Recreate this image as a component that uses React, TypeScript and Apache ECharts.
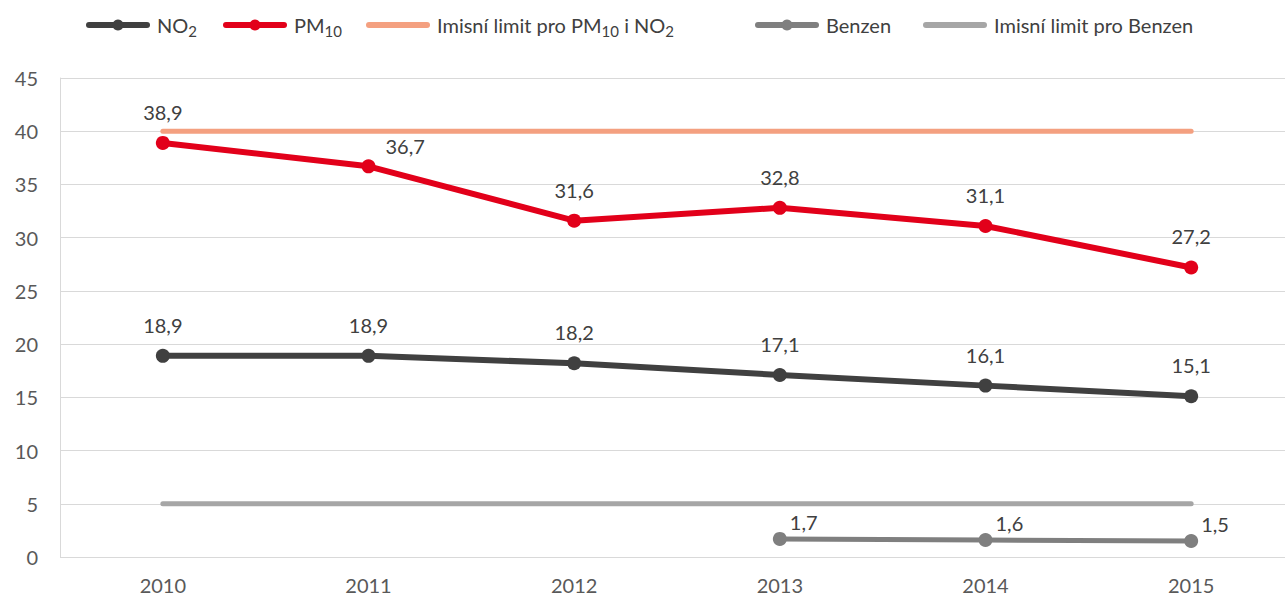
import React, { useEffect, useRef } from "react";
import * as echarts from "echarts";

const years = ["2010", "2011", "2012", "2013", "2014", "2015"];
const no2 = [18.9, 18.9, 18.2, 17.1, 16.1, 15.1];
const pm10 = [38.9, 36.7, 31.6, 32.8, 31.1, 27.2];
const benzen = [null, null, null, 1.7, 1.6, 1.5];
const limitPmNo2 = [40, 40, 40, 40, 40, 40];
const limitBenzen = [5, 5, 5, 5, 5, 5];

const seriesNames = ["NO2", "PM10", "Imisní limit pro PM10 i NO2", "Benzen", "Imisní limit pro Benzen"];
const legendHasDot = [true, true, false, true, false];
const legendLeft = [86, 223, 366, 755, 923];

const FONT = "Lato";
const fmt = (p: any) => String(p.value).replace(".", ",");

export default function App() {
  const ref = useRef<HTMLDivElement>(null);
  useEffect(() => {
    if (!ref.current) return;
    const chart = echarts.init(ref.current, undefined, { renderer: "svg" });
    const labelTop = {
      show: true,
      position: "top",
      distance: 14,
      fontSize: 20,
      color: "#404040",
      fontFamily: FONT,
      formatter: fmt,
    };
    const legends = seriesNames.map((name, i) => ({
      top: 15,
      left: legendLeft[i],
      padding: 0,
      itemWidth: 58,
      itemHeight: 14,
      lineStyle: { width: 6, cap: "round" },
      textStyle: {
        fontSize: 20,
        color: "#404040",
        fontFamily: FONT,
        padding: [0, 0, 0, 5],
        rich: {
          sub: { fontSize: 15, fontFamily: FONT, color: "#404040", padding: [12, 0, 0, 0] },
        },
      },
      formatter: (n: string) => {
        if (n === "NO2") return "NO{sub|2}";
        if (n === "PM10") return "PM{sub|10}";
        if (n === "Imisní limit pro PM10 i NO2") return "Imisní limit pro PM{sub|10} i NO{sub|2}";
        return n;
      },
      data: [
        legendHasDot[i]
          ? { name }
          : { name, itemStyle: { color: "rgba(0,0,0,0)", borderWidth: 0 } },
      ],
    }));
    chart.setOption({
      animation: false,
      textStyle: { fontFamily: FONT },
      legend: legends,
      grid: { left: 60, right: 0, top: 78, bottom: 39 },
      xAxis: {
        type: "category",
        data: years,
        boundaryGap: true,
        axisLine: { show: false },
        axisTick: { show: false },
        axisLabel: { fontSize: 20, color: "#595959", margin: 18, fontFamily: FONT },
      },
      yAxis: {
        type: "value",
        min: 0,
        max: 45,
        interval: 5,
        axisLine: { show: true, lineStyle: { color: "#D9D9D9", width: 1 } },
        axisTick: { show: false },
        splitLine: { lineStyle: { color: "#D9D9D9", width: 1 } },
        axisLabel: { fontSize: 20, color: "#595959", margin: 22, fontFamily: FONT },
      },
      series: [
        {
          name: "Imisní limit pro PM10 i NO2",
          type: "line",
          data: limitPmNo2,
          showSymbol: false,
          symbol: "none",
          lineStyle: { color: "#F4A080", width: 5, cap: "round" },
          itemStyle: { color: "#F4A080" },
          z: 1,
        },
        {
          name: "Imisní limit pro Benzen",
          type: "line",
          data: limitBenzen,
          showSymbol: false,
          symbol: "none",
          lineStyle: { color: "#A6A6A6", width: 5, cap: "round" },
          itemStyle: { color: "#A6A6A6" },
          z: 1,
        },
        {
          name: "NO2",
          type: "line",
          data: no2,
          symbol: "circle",
          symbolSize: 14,
          lineStyle: { color: "#404040", width: 6 },
          itemStyle: { color: "#404040" },
          label: labelTop,
          z: 3,
        },
        {
          name: "PM10",
          type: "line",
          data: pm10.map((v, i) =>
            i === 1 ? { value: v, label: { position: [24, -23] } } : v
          ),
          symbol: "circle",
          symbolSize: 14,
          lineStyle: { color: "#E2001A", width: 6 },
          itemStyle: { color: "#E2001A" },
          label: labelTop,
          z: 3,
        },
        {
          name: "Benzen",
          type: "line",
          data: benzen,
          symbol: "circle",
          symbolSize: 14,
          lineStyle: { color: "#7F7F7F", width: 5 },
          itemStyle: { color: "#7F7F7F" },
          label: { ...labelTop, position: [17, -20] },
          z: 3,
        },
      ],
    });
    return () => chart.dispose();
  }, []);
  return (
    <div style={{ position: "absolute", left: 0, top: 0, width: 1285, height: 596, overflow: "hidden" }}>
      <div ref={ref} style={{ width: 1294, height: 596 }} />
    </div>
  );
}
